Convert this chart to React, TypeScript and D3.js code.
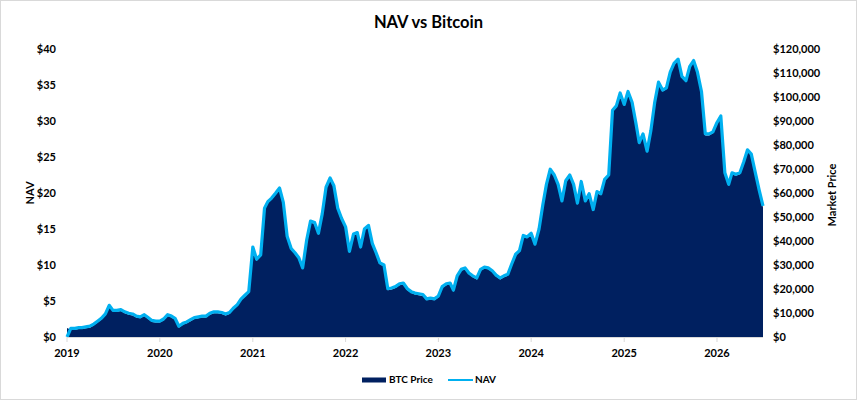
import React from 'react'
import * as d3 from 'd3';

// semi-monthly closes (1st and 16th of each month), Jan 2019 .. Jul 2026
const btcPrice = [
  // 2019
  3700, 3000, 3000, 3300, 3300, 3600, 3900, 4800, 6000, 7200, 9000, 12600,
  10500, 10500, 10800, 9900, 9300, 9000, 8100, 7800, 8700, 7500, 6300, 6000,
  // 2020
  6000, 6900, 8700, 8100, 7200, 3900, 5100, 5700, 6600, 7500, 7800, 8100,
  8100, 9300, 9900, 9900, 9600, 9000, 9600, 11400, 12900, 15300, 16800, 18300,
  // 2021
  36900, 31800, 33600, 53100, 55800, 57300, 59400, 61500, 55500, 41400, 36300, 34500,
  32400, 28200, 39900, 47700, 47100, 42600, 50700, 61800, 65700, 62400, 53100, 48900,
  // 2022
  45300, 35100, 42300, 42900, 36900, 44400, 45900, 38400, 34500, 30300, 29400, 19500,
  19800, 20400, 21600, 21900, 19500, 18300, 17700, 17400, 17100, 15300, 15600, 15300,
  // 2023
  16500, 20400, 21600, 21900, 18900, 24900, 27600, 28200, 26100, 24900, 24000, 27600,
  28500, 28200, 27000, 25200, 24000, 24900, 25500, 29700, 33900, 35400, 41700, 41100,
  // 2024
  42600, 38100, 44400, 54600, 63000, 69300, 66900, 63000, 56100, 64500, 66900, 63000,
  55200, 64200, 56100, 59100, 52500, 60000, 59100, 65100, 66900, 93900, 95700, 101100,
  // 2025
  96300, 101700, 97200, 88500, 80400, 84000, 76800, 85500, 97200, 105600, 102300, 103200,
  109800, 113400, 115200, 108000, 106200, 112200, 114600, 109800, 101700, 84000, 84000, 84900,
  // 2026
  88800, 91500, 67800, 63000, 67800, 67200, 67800, 72300, 77400, 75600, 67800, 60600, 54000,
];

const navValues = [
  // 2019
  0, 1.2, 1.2, 1.3, 1.3, 1.4, 1.5, 1.8, 2.2, 2.6, 3.2, 4.4,
  3.7, 3.7, 3.8, 3.5, 3.3, 3.2, 2.9, 2.8, 3.1, 2.7, 2.3, 2.2,
  // 2020
  2.2, 2.5, 3.1, 2.9, 2.6, 1.5, 1.9, 2.1, 2.4, 2.7, 2.8, 2.9,
  2.9, 3.3, 3.5, 3.5, 3.4, 3.2, 3.4, 4.0, 4.5, 5.3, 5.8, 6.3,
  // 2021
  12.5, 10.8, 11.4, 17.9, 18.8, 19.3, 20.0, 20.7, 18.7, 14.0, 12.3, 11.7,
  11.0, 9.6, 13.5, 16.1, 15.9, 14.4, 17.1, 20.8, 22.1, 21.0, 17.9, 16.5,
  // 2022
  15.3, 11.9, 14.3, 14.5, 12.5, 15.0, 15.5, 13.0, 11.7, 10.3, 10.0, 6.7,
  6.8, 7.0, 7.4, 7.5, 6.7, 6.3, 6.1, 6.0, 5.9, 5.3, 5.4, 5.3,
  // 2023
  5.7, 7.0, 7.4, 7.5, 6.5, 8.5, 9.4, 9.6, 8.9, 8.5, 8.2, 9.4,
  9.7, 9.6, 9.2, 8.6, 8.2, 8.5, 8.7, 10.1, 11.5, 12.0, 14.1, 13.9,
  // 2024
  14.4, 12.9, 15.0, 18.4, 21.2, 23.3, 22.5, 21.2, 18.9, 21.7, 22.5, 21.2,
  18.6, 21.6, 18.9, 19.9, 17.7, 20.2, 19.9, 21.9, 22.5, 31.5, 32.1, 33.9,
  // 2025
  32.3, 34.1, 32.6, 29.7, 27.0, 28.2, 25.8, 28.7, 32.6, 35.4, 34.3, 34.6,
  36.8, 38.0, 38.6, 36.2, 35.6, 37.6, 38.4, 36.8, 34.1, 28.2, 28.2, 28.5,
  // 2026
  29.8, 30.7, 22.8, 21.2, 22.8, 22.6, 22.8, 24.3, 26.0, 25.4, 22.8, 20.4, 18.2,
];

const years = [2019, 2020, 2021, 2022, 2023, 2024, 2025, 2026];
const navTicks = [0, 5, 10, 15, 20, 25, 30, 35, 40];
const priceTicks = [0, 10000, 20000, 30000, 40000, 50000, 60000, 70000, 80000, 90000, 100000, 110000, 120000];

const DARK = '#002060';
const LIGHT = '#00B0F0';
const FONT = 'Lato, "Open Sans", sans-serif';

const dates = btcPrice.map((_, i) => new Date(2019, Math.floor(i / 2), i % 2 ? 16 : 1));

const NavChart = () => {
  const width = 857, height = 400;
  const left = 67, right = 763, top = 49, bottom = 337;

  const x = d3.scaleTime()
    .domain([dates[0], dates[dates.length - 1]])
    .range([left, right]);

  const yNav = d3.scaleLinear().domain([0, 40]).range([bottom, top]);
  const yPrice = d3.scaleLinear().domain([0, 120000]).range([bottom, top]);

  const area = d3.area<number>()
    .x((_, i) => x(dates[i]))
    .y0(bottom)
    .y1(d => yPrice(d));

  const line = d3.line<number>()
    .x((_, i) => x(dates[i]))
    .y(d => yNav(d));

  return (
    <svg width={width} height={height} style={{ display: 'block', fontFamily: FONT }}>
      <rect x={0.5} y={0.5} width={width - 1} height={height - 1} fill='#fff' stroke='#d9d9d9' />

      <text x={width / 2} y={28} textAnchor='middle' fontSize={16.5} fontWeight='bold' fill='#000'>NAV vs Bitcoin</text>

      <path d={area(btcPrice) || ''} fill={DARK} />
      <path d={line(navValues) || ''} fill='none' stroke={LIGHT} strokeWidth={3.2} strokeLinejoin='round' />

      {/* x axis */}
      <line x1={left} x2={right} y1={bottom + 0.5} y2={bottom + 0.5} stroke='#d9d9d9' />
      {years.map(yr => {
        const xx = x(new Date(yr, 0, 1));
        return (
          <g key={yr}>
            <line x1={xx} x2={xx} y1={bottom} y2={bottom + 5} stroke='#d9d9d9' />
            <text x={xx} y={357} textAnchor='middle' fontSize={11} fontWeight='bold' fill='#000'>{yr}</text>
          </g>
        );
      })}

      {/* left axis */}
      {navTicks.map(t => (
        <text key={t} x={56} y={yNav(t) + 4} textAnchor='end' fontSize={11} fontWeight='bold' fill='#000'>{'$' + t}</text>
      ))}
      <text transform={`translate(34,${(top + bottom) / 2}) rotate(-90)`} textAnchor='middle' fontSize={11} fontWeight='bold' fill='#000'>NAV</text>

      {/* right axis */}
      {priceTicks.map(t => (
        <text key={t} x={773} y={yPrice(t) + 4} textAnchor='start' fontSize={11} fontWeight='bold' fill='#000'>{d3.format('$,')(t)}</text>
      ))}
      <text transform={`translate(836,${(top + bottom) / 2 + 2}) rotate(-90)`} textAnchor='middle' fontSize={11} fontWeight='bold' fill='#000'>Market Price</text>

      {/* legend */}
      <rect x={362} y={377.5} width={24} height={5} fill={DARK} />
      <text x={389} y={383} fontSize={10} fontWeight='bold' fill='#000'>BTC Price</text>
      <line x1={448} x2={473} y1={380} y2={380} stroke={LIGHT} strokeWidth={2} />
      <text x={475} y={383} fontSize={10} fontWeight='bold' fill='#000'>NAV</text>
    </svg>
  );
}

const App = () => (
  <>
    <style>{'body{margin:0}'}</style>
    <NavChart />
  </>
)

export default App
